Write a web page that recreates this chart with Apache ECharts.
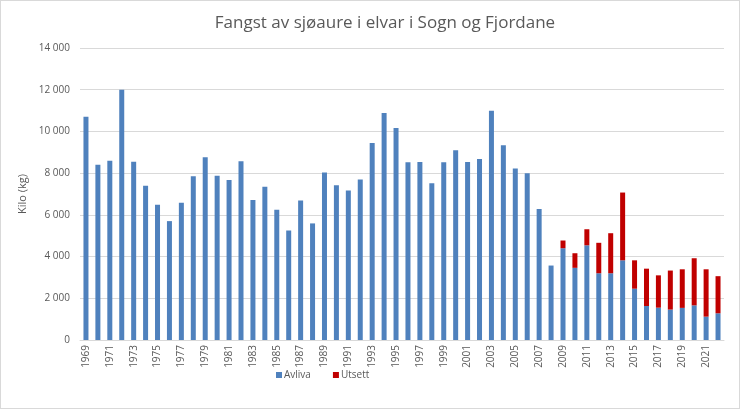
<!DOCTYPE html>
<html>
<head>
<meta charset="utf-8">
<script src="https://cdn.jsdelivr.net/npm/echarts@6/dist/echarts.min.js"></script>
<style>
html,body{margin:0;padding:0;background:#fff;}
#c{width:738px;height:407px;border:1px solid #d9d9d9;}
</style>
</head>
<body>
<div id="c"></div>
<script>
var years = [];
for (var y = 1969; y <= 2022; y++) years.push(String(y));

var avliva = [10700, 8400, 8600, 12000, 8550, 7400, 6480, 5700, 6580, 7850,
  8760, 7880, 7670, 8570, 6710, 7350, 6240, 5250, 6690, 5590,
  8030, 7420, 7170, 7700, 9450, 10880, 10160, 8520, 8540, 7510,
  8520, 9100, 8540, 8680, 10990, 9340, 8220, 7990, 6280, 3570,
  4400, 3460, 4540, 3200, 3200, 3820, 2460, 1630, 1550, 1460,
  1540, 1660, 1120, 1280];

var utsett = [null, null, null, null, null, null, null, null, null, null,
  null, null, null, null, null, null, null, null, null, null,
  null, null, null, null, null, null, null, null, null, null,
  null, null, null, null, null, null, null, null, null, null,
  370, 700, 770, 1460, 1920, 3250, 1360, 1790, 1550, 1870,
  1850, 2260, 2270, 1780];

var yTicks = { min: 0, max: 14000, interval: 2000 };

var chart = echarts.init(document.getElementById('c'));
var font = 'Open Sans';
chart.setOption({
  animation: false,
  title: {
    text: 'Fangst av sjøaure i elvar i Sogn og Fjordane',
    left: 379, top: 9, textAlign: 'center',
    textStyle: { fontFamily: font, fontSize: 17, fontWeight: 'normal', color: '#595959' }
  },
  legend: {
    left: 270, top: 364,
    itemWidth: 6, itemHeight: 6, itemGap: 22,
    icon: 'rect',
    textStyle: { fontFamily: font, fontSize: 10, color: '#595959', padding: [0, 0, 0, -3] },
    data: ['Avliva', 'Utsett']
  },
  grid: { left: 79, right: 15, top: 47, bottom: 68, containLabel: false },
  xAxis: {
    type: 'category',
    data: years,
    axisTick: { show: false },
    axisLine: { lineStyle: { color: '#d9d9d9' } },
    axisLabel: { interval: 1, rotate: 90, fontFamily: font, fontSize: 10, color: '#595959', margin: 5 }
  },
  yAxis: {
    type: 'value',
    min: yTicks.min, max: yTicks.max, interval: yTicks.interval,
    name: 'Kilo (kg)',
    nameLocation: 'middle', nameGap: 50, nameRotate: 90,
    nameTextStyle: { fontFamily: font, fontSize: 11, color: '#595959' },
    axisLine: { show: false },
    axisTick: { show: false },
    splitLine: { lineStyle: { color: '#d9d9d9' } },
    axisLabel: {
      fontFamily: font, fontSize: 10, color: '#595959', margin: 10,
      formatter: function (v) { return String(v).replace(/\B(?=(\d{3})+(?!\d))/g, ' '); }
    }
  },
  series: [
    { name: 'Avliva', type: 'bar', stack: 'a', data: avliva, barWidth: 5,
      itemStyle: { color: '#4f81bd' } },
    { name: 'Utsett', type: 'bar', stack: 'a', data: utsett, barWidth: 5,
      itemStyle: { color: '#c00000' } }
  ]
});
</script>
</body>
</html>
